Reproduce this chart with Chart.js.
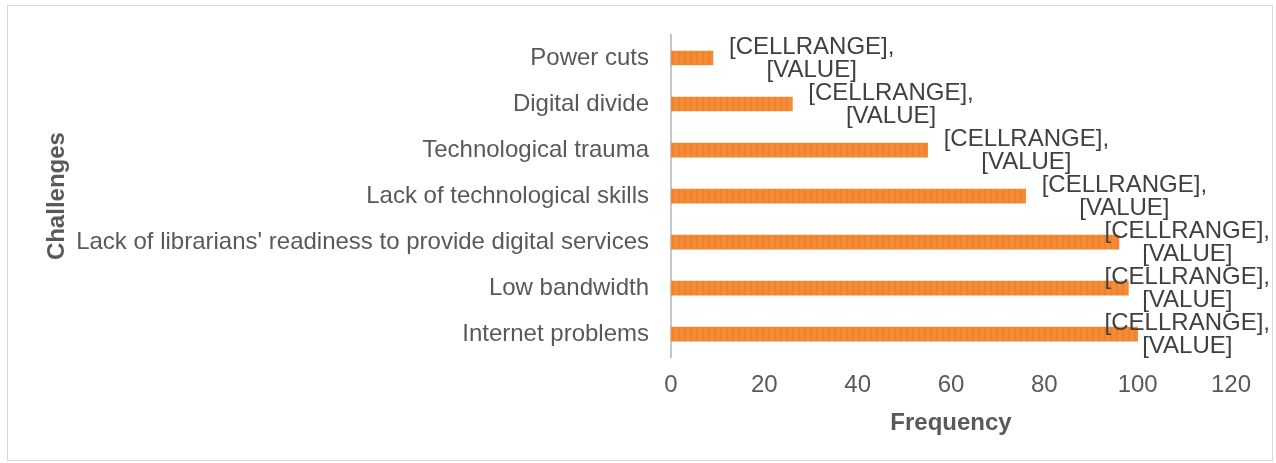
<!DOCTYPE html>
<html>
<head>
<meta charset="utf-8">
<script src="https://cdn.jsdelivr.net/npm/chart.js@4.4.1/dist/chart.umd.min.js"></script>
<style>
  html, body { margin: 0; padding: 0; background: #ffffff; }
  #frame {
    position: absolute;
    left: 7px;
    top: 5px;
    width: 1264px;
    height: 454px;
    border: 1px solid #d9d9d9;
    background: #ffffff;
  }
</style>
</head>
<body>
<div id="frame"><canvas id="challengeChart"></canvas></div>
<script>
// Challenges faced, with how often each was reported
const challenges = [
  'Power cuts',
  'Digital divide',
  'Technological trauma',
  'Lack of technological skills',
  "Lack of librarians' readiness to provide digital services",
  'Low bandwidth',
  'Internet problems',
];
const frequencies = [9, 26, 55, 76, 96, 98, 100];
const xTicks = [0, 20, 40, 60, 80, 100, 120];
const labelLines = ['[CELLRANGE],', '[VALUE]'];

const FONT = "'Liberation Sans', Arial, sans-serif";

// orange fill with faint vertical hatching
function makeBarPattern() {
  const c = document.createElement('canvas');
  c.width = 6;
  c.height = 6;
  const g = c.getContext('2d');
  g.fillStyle = '#f58b35';
  g.fillRect(0, 0, 6, 6);
  g.fillStyle = '#ef822e';
  g.fillRect(4, 0, 2, 6);
  return g.createPattern(c, 'repeat');
}

// two-line label to the right of each bar, kept inside the chart box
const barLabels = {
  id: 'barLabels',
  afterDatasetsDraw(chart) {
    const ctx = chart.ctx;
    const meta = chart.getDatasetMeta(0);
    ctx.save();
    ctx.font = '24px ' + FONT;
    ctx.fillStyle = '#404040';
    ctx.textAlign = 'center';
    ctx.textBaseline = 'middle';
    const blockW = Math.max(...labelLines.map((t) => ctx.measureText(t).width));
    meta.data.forEach((bar) => {
      let left = bar.x + 16;
      const maxLeft = chart.width - 2 - blockW;
      if (left > maxLeft) left = maxLeft;
      const cx = left + blockW / 2;
      ctx.fillText(labelLines[0], cx, bar.y - 11);
      ctx.fillText(labelLines[1], cx, bar.y + 12);
    });
    ctx.restore();
  },
};

const ctx = document.getElementById('challengeChart').getContext('2d');
new Chart(ctx, {
  type: 'bar',
  data: {
    labels: challenges,
    datasets: [
      {
        label: 'Frequency',
        data: frequencies,
        backgroundColor: makeBarPattern(),
        borderWidth: 0,
        barThickness: 14,
      },
    ],
  },
  options: {
    indexAxis: 'y',
    responsive: true,
    maintainAspectRatio: false,
    animation: false,
    layout: {
      padding: { left: 31, top: 29, right: 41, bottom: 18 },
    },
    plugins: {
      legend: { display: false },
      tooltip: { enabled: false },
    },
    scales: {
      x: {
        min: 0,
        max: 120,
        afterBuildTicks: (scale) => {
          scale.ticks = xTicks.map((v) => ({ value: v }));
        },
        grid: { display: false, drawTicks: false },
        border: { display: false },
        ticks: {
          padding: 16,
          color: '#595959',
          font: { family: FONT, size: 24, lineHeight: 1.0 },
        },
        title: {
          display: true,
          text: 'Frequency',
          color: '#595959',
          padding: { top: -4, bottom: 4 },
          font: { family: FONT, size: 24, weight: 'bold' },
        },
      },
      y: {
        grid: { display: false, drawTicks: false },
        border: { display: true, color: '#c4c8cc', width: 2 },
        // the long category names need more than the default half-width cap
        afterFit: (scale) => {
          scale.width = 632;
          scale.paddingTop = 0;
          scale.paddingBottom = 0;
        },
        ticks: {
          padding: 22,
          color: '#595959',
          font: { family: FONT, size: 24 },
        },
        title: {
          display: true,
          text: 'Challenges',
          color: '#595959',
          padding: { top: 4, bottom: 4 },
          font: { family: FONT, size: 24, weight: 'bold' },
        },
      },
    },
  },
  plugins: [barLabels],
});
</script>
</body>
</html>
